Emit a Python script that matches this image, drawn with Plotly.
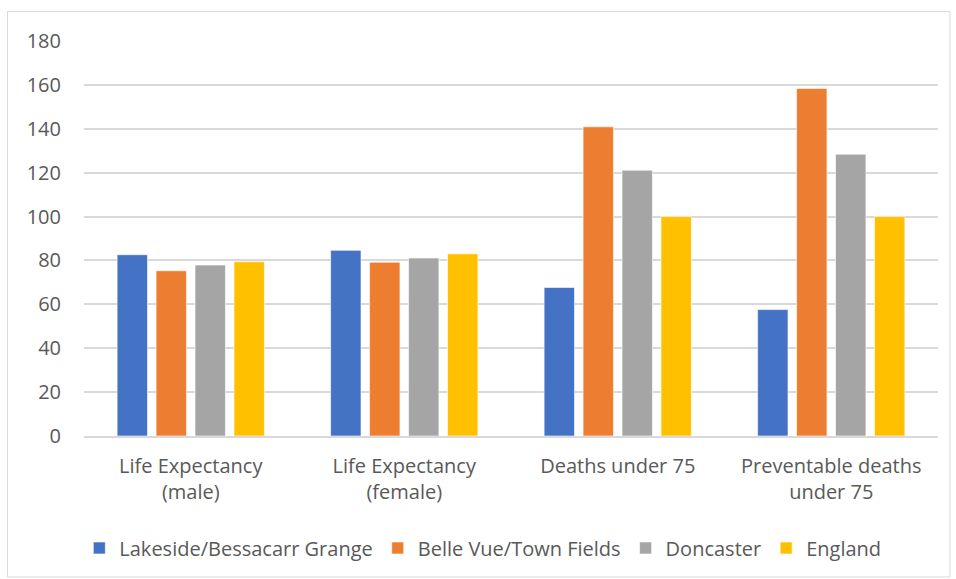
import plotly.graph_objects as go

categories = ["Life Expectancy<br>(male)", "Life Expectancy<br>(female)",
              "Deaths under 75", "Preventable deaths<br>under 75"]
series_names = ["Lakeside/Bessacarr Grange", "Belle Vue/Town Fields", "Doncaster", "England"]
lakeside = [82.6, 84.6, 67.7, 57.6]
bellevue = [75.3, 79.2, 140.9, 158.4]
doncaster = [77.9, 81.1, 121.1, 128.4]
england = [79.4, 83.0, 100.0, 100.0]
colors = ["#4472C4", "#ED7D31", "#A5A5A5", "#FFC000"]
y_ticks = [0, 20, 40, 60, 80, 100, 120, 140, 160, 180]

font_family = "'Open Sans', Lato, sans-serif"
fig = go.Figure()
for name, vals, c in zip(series_names, [lakeside, bellevue, doncaster, england], colors):
    fig.add_trace(go.Bar(x=categories, y=vals, name=name, marker_color=c,
                         marker_line=dict(color="rgba(255,255,255,0.6)", width=1)))

fig.update_layout(
    width=956, height=579,
    margin=dict(l=84, r=18, t=41, b=143),
    paper_bgcolor="white", plot_bgcolor="white",
    barmode="group", bargap=0.27, bargroupgap=0.22,
    font=dict(family=font_family, size=20, color="#595959"),
    showlegend=True,
    legend=dict(orientation="h", x=0.467, xanchor="center", y=-0.2835, yanchor="middle",
                font=dict(size=20, color="#595959"), itemwidth=30, traceorder="normal"),
    xaxis=dict(showgrid=False, showline=True, linecolor="#d9d9d9", linewidth=1.5,
               tickfont=dict(size=20, color="#595959"), ticks="", ticklabelstandoff=11),
    yaxis=dict(range=[0, 180], tickvals=y_ticks, showgrid=True, gridcolor="#d9d9d9",
               gridwidth=1.5, zeroline=False, showline=False, ticks="",
               ticklabelstandoff=22,
               tickfont=dict(size=20, color="#595959")),
    shapes=[dict(type="rect", xref="paper", yref="paper",
                 x0=-0.0896, x1=1.014, y0=-0.357, y1=1.0747,
                 line=dict(color="#d9d9d9", width=1), fillcolor="rgba(0,0,0,0)", layer="below")],
)
fig.write_html("out.html", config={"displayModeBar": False},
               post_script="document.body.style.margin='0px';")
